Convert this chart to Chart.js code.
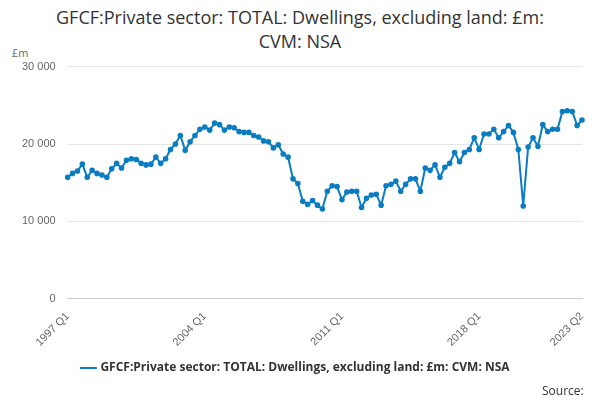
<!DOCTYPE html>
<html><head><meta charset="utf-8">
<script src="https://cdn.jsdelivr.net/npm/chart.js@4"></script>
<style>body{margin:0;width:600px;height:400px;overflow:hidden;font-family:"Open Sans",sans-serif;background:#fff}
#t{position:absolute;top:5px;left:0;width:600px;text-align:center;font-size:18px;color:#333;line-height:24px}
#u{position:absolute;left:12px;top:45px;font-size:11px;color:#666}
#s{position:absolute;left:542px;top:382px;font-size:12px;color:#333}
#w{position:absolute;left:0;top:48px;width:600px;height:336px}</style></head><body>
<div id="t">GFCF:Private sector: TOTAL: Dwellings, excluding land: £m:<br>CVM: NSA</div>
<div id="u">£m</div>
<div id="w"><canvas id="c"></canvas></div>
<div id="s">Source:</div>
<script>
const values=[15.7,16.2,16.5,17.4,15.7,16.6,16.2,16.0,15.7,16.8,17.5,16.9,17.9,18.1,18.0,17.5,17.3,17.4,18.3,17.5,18.1,19.3,20.0,21.1,19.2,20.3,21.1,21.9,22.2,21.8,22.7,22.5,21.8,22.2,22.1,21.6,21.5,21.5,21.1,20.9,20.4,20.3,19.5,19.9,18.7,18.3,15.5,14.9,12.6,12.2,12.7,12.1,11.6,13.9,14.6,14.5,12.8,13.8,13.9,13.9,11.8,13.0,13.4,13.5,12.1,14.6,14.8,15.2,13.9,14.8,15.5,15.5,13.9,16.9,16.6,17.3,15.7,17.0,17.5,18.9,17.7,18.9,19.3,20.8,19.3,21.3,21.3,21.9,20.8,21.6,22.4,21.5,19.3,12.0,19.6,20.8,19.7,22.5,21.6,21.9,21.9,24.2,24.3,24.2,22.4,23.1].map(v=>Math.round(v*1000));
const categories=[];for(let y=1997;y<=2023;y++)for(let q=1;q<=4;q++){if(y===2023&&q>2)break;categories.push(y+' Q'+q);}
const shownTicks=['1997 Q1','2004 Q1','2011 Q1','2018 Q1','2023 Q2'];
const seriesName='GFCF:Private sector: TOTAL: Dwellings, excluding land: £m: CVM: NSA';
new Chart(document.getElementById('c'),{type:'line',data:{labels:categories,datasets:[{label:seriesName,data:values,borderColor:'#0a7dc2',backgroundColor:'#0a7dc2',borderWidth:2,pointRadius:1.8,pointHoverRadius:3,tension:0}]},
options:{responsive:true,maintainAspectRatio:false,animation:false,layout:{padding:{left:10,right:18,top:12}},
plugins:{legend:{position:'bottom',labels:{usePointStyle:true,pointStyle:'line',boxWidth:20,color:'#333',font:{family:'Open Sans',size:12,weight:'bold'}}},tooltip:{enabled:false}},
scales:{x:{grid:{display:false,drawTicks:true},border:{color:'#ccc'},ticks:{autoSkip:false,maxRotation:45,minRotation:45,color:'#666',font:{size:11},callback:function(v,i){const l=categories[i];return shownTicks.includes(l)?l:null;}}},
y:{min:0,max:30000,ticks:{stepSize:10000,color:'#666',font:{size:11},padding:12,callback:v=>v===0?'0':String(v).replace(/(\d)(?=(\d{3})+$)/g,'$1 ')},grid:{color:'#e6e6e6',drawTicks:false},border:{display:false}}}}});
</script></body></html>
